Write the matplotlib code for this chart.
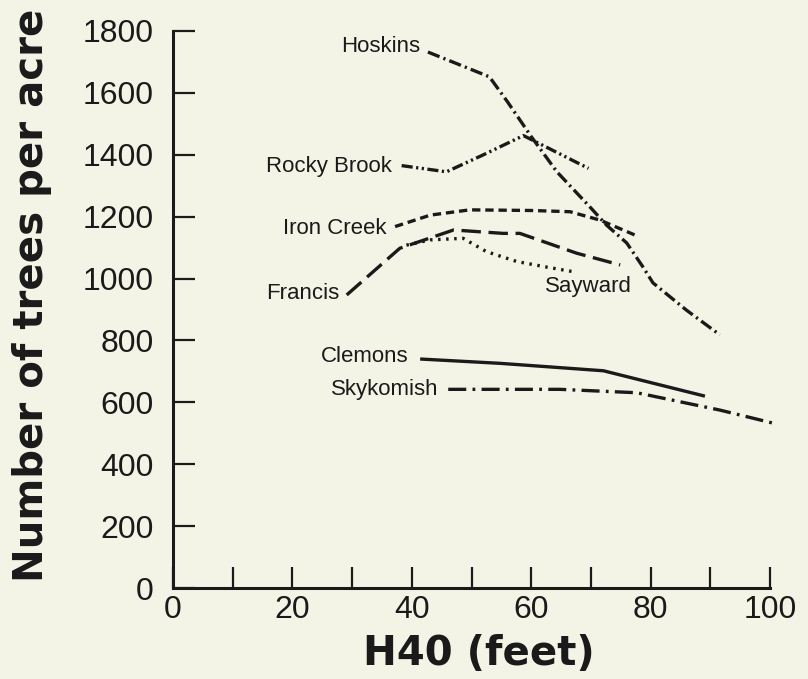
import matplotlib.pyplot as plt
from matplotlib.ticker import MultipleLocator

plt.rcParams["lines.scale_dashes"] = False

# stand density vs. H40 for each installation
hoskins_x = [42.7, 53, 56, 60, 64.3, 70, 72.6, 76, 78.7, 80.4, 86, 91.6]
hoskins_y = [1732, 1652, 1572, 1459, 1345, 1228, 1173, 1115, 1038, 986, 898, 818]

rocky_x = [38.3, 45.8, 52, 58.7, 62, 69.6]
rocky_y = [1365, 1345, 1400, 1462, 1430, 1356]

iron_x = [37.2, 43.1, 49.7, 60, 66.5, 71.5, 77.7]
iron_y = [1168, 1205, 1222, 1220, 1216, 1189, 1138]

francis_x = [29.1, 38.0, 47.0, 55.3, 58.1, 67.6, 74.9]
francis_y = [947, 1098, 1157, 1146, 1146, 1082, 1044]

sayward_x = [39.1, 43.1, 48.6, 52.5, 57.6, 62.6, 67.1]
sayward_y = [1108, 1125, 1130, 1087, 1055, 1037, 1022]

clemons_x = [41.4, 54.8, 72.1, 89.1]
clemons_y = [740, 726, 702, 620]

sky_x = [46.1, 64.8, 77.7, 91.6, 101.1]
sky_y = [642, 642, 631, 575, 530]

bg = "#f4f4e6"
ink = "#1a1a1a"

fig = plt.figure(figsize=(8.08, 6.79), dpi=100, facecolor=bg)
ax = fig.add_axes([173 / 808, 1 - 588 / 679, 597 / 808, 557 / 679])
ax.set_facecolor(bg)

lw = 2.4
kw = dict(color=ink, lw=lw, clip_on=False, solid_capstyle="butt", dash_capstyle="butt")
ax.plot(hoskins_x, hoskins_y, dashes=(9, 3, 1.6, 3), **kw)
ax.plot(rocky_x, rocky_y, dashes=(8, 2.5, 1.6, 2.5, 1.6, 2.5), **kw)
ax.plot(iron_x, iron_y, dashes=(6, 3.5), **kw)
ax.plot(francis_x, francis_y, dashes=(14, 5.5), **kw)
ax.plot(sayward_x, sayward_y, dashes=(1.8, 4), **kw)
ax.plot(clemons_x, clemons_y, **kw)
ax.plot(sky_x, sky_y, dashes=(13, 4.5, 2, 4.5), **kw)

lab = dict(fontsize=16, family="Liberation Sans", color=ink, va="center")
ax.text(41.4, 1749, "Hoskins", ha="right", **lab)
ax.text(36.6, 1362, "Rocky Brook", ha="right", **lab)
ax.text(35.8, 1163, "Iron Creek", ha="right", **lab)
ax.text(27.8, 953, "Francis", ha="right", **lab)
ax.text(62.3, 974, "Sayward", ha="left", **lab)
ax.text(39.4, 748, "Clemons", ha="right", **lab)
ax.text(44.4, 640, "Skykomish", ha="right", **lab)

ax.set_xlim(0, 100)
ax.set_ylim(0, 1800)
ax.xaxis.set_major_locator(MultipleLocator(20))
ax.xaxis.set_minor_locator(MultipleLocator(10))
ax.yaxis.set_major_locator(MultipleLocator(200))

for side in ["top", "right"]:
    ax.spines[side].set_visible(False)
for side in ["left", "bottom"]:
    ax.spines[side].set_linewidth(2.2)
    ax.spines[side].set_color(ink)

ax.tick_params(axis="y", which="major", direction="in", length=16, width=1.6,
               pad=14, labelsize=23, colors=ink)
ax.tick_params(axis="x", which="both", direction="in", length=15, width=1.6,
               pad=5, labelsize=23, colors=ink)
for t in ax.get_xticklabels() + ax.get_yticklabels():
    t.set_family("Liberation Sans")

fig.text(479 / 808, 1 - 665 / 679, "H40 (feet)", ha="center", va="baseline",
         fontsize=29, fontweight="bold", family="DejaVu Sans", color=ink)
fig.text(12 / 808, 1 - 295 / 679, "Number of trees per acre", ha="left", va="center",
         rotation=90, fontsize=29, fontweight="bold", family="DejaVu Sans", color=ink)

fig.savefig("out.png", dpi=100, facecolor=bg)
